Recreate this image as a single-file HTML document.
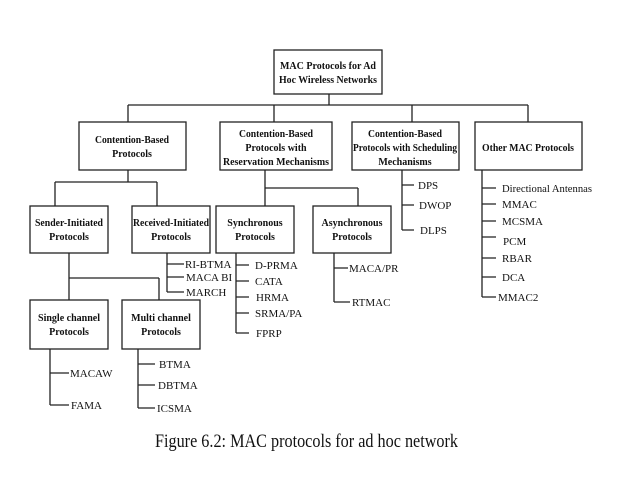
<!DOCTYPE html>
<html><head><meta charset="utf-8"><style>
html,body{margin:0;padding:0;background:#fff;width:638px;height:479px;overflow:hidden}
svg{display:block}
.b{font-family:"Liberation Serif",serif;font-weight:bold;font-size:10px;fill:#111;text-anchor:middle}
.t{font-family:"Liberation Serif",serif;font-size:11px;fill:#111}
</style></head><body>
<svg width="638" height="479" viewBox="0 0 638 479" xmlns="http://www.w3.org/2000/svg">
<g fill="none" stroke="#222" stroke-width="1.3">
<rect x="274" y="50" width="108" height="44"/>
<rect x="79" y="122" width="107" height="48"/>
<rect x="220" y="122" width="112" height="48"/>
<rect x="352" y="122" width="107" height="48"/>
<rect x="475" y="122" width="107" height="48"/>
<rect x="30" y="206" width="78" height="47"/>
<rect x="132" y="206" width="78" height="47"/>
<rect x="216" y="206" width="78" height="47"/>
<rect x="313" y="206" width="78" height="47"/>
<rect x="30" y="300" width="78" height="49"/>
<rect x="122" y="300" width="78" height="49"/>
<path d="M329 94V105M128 105H528M128 105V122M274 105V122M412 105V122M528 105V122"/>
<path d="M128 170V182M55 182H157M55 182V206M157 182V206"/>
<path d="M265 170V188M265 188H358M265 188V206M358 188V206"/>
<path d="M402 170V230M402 185H414M402 205H414M402 230H414"/>
<path d="M482 170V297M482 188H496M482 204H496M482 221H496M482 237H496M482 258H496M482 277H496M482 297H496"/>
<path d="M69 253V300M69 278H159M159 278V300"/>
<path d="M167 253V292M167 264H184M167 277H184M167 292H184"/>
<path d="M236 253V333M236 265H249M236 281H249M236 297H249M236 313H249M236 333H249"/>
<path d="M334 253V302M334 268H348M334 302H350"/>
<path d="M50 349V405M50 373H69M50 405H69"/>
<path d="M138 349V408M138 364H155M138 385H155M138 408H155"/>
</g>
<text class="b" x="328" y="69" textLength="96" lengthAdjust="spacingAndGlyphs">MAC Protocols for Ad</text>
<text class="b" x="328" y="83" textLength="98" lengthAdjust="spacingAndGlyphs">Hoc Wireless Networks</text>
<text class="b" x="132" y="143" textLength="74" lengthAdjust="spacingAndGlyphs">Contention-Based</text>
<text class="b" x="132" y="157">Protocols</text>
<text class="b" x="276" y="137" textLength="74" lengthAdjust="spacingAndGlyphs">Contention-Based</text>
<text class="b" x="276" y="151">Protocols with</text>
<text class="b" x="276" y="165" textLength="106" lengthAdjust="spacingAndGlyphs">Reservation Mechanisms</text>
<text class="b" x="405" y="137" textLength="74" lengthAdjust="spacingAndGlyphs">Contention-Based</text>
<text class="b" x="405" y="151" textLength="104" lengthAdjust="spacingAndGlyphs">Protocols with Scheduling</text>
<text class="b" x="405" y="165">Mechanisms</text>
<text class="b" x="528" y="151" textLength="92" lengthAdjust="spacingAndGlyphs">Other MAC Protocols</text>
<text class="b" x="69" y="226" textLength="68" lengthAdjust="spacingAndGlyphs">Sender-Initiated</text>
<text class="b" x="69" y="240">Protocols</text>
<text class="b" x="171" y="226" textLength="76" lengthAdjust="spacingAndGlyphs">Received-Initiated</text>
<text class="b" x="171" y="240">Protocols</text>
<text class="b" x="255" y="226">Synchronous</text>
<text class="b" x="255" y="240">Protocols</text>
<text class="b" x="352" y="226">Asynchronous</text>
<text class="b" x="352" y="240">Protocols</text>
<text class="b" x="69" y="321">Single channel</text>
<text class="b" x="69" y="335">Protocols</text>
<text class="b" x="161" y="321">Multi channel</text>
<text class="b" x="161" y="335">Protocols</text>
<g class="t">
<text x="418" y="189">DPS</text>
<text x="419" y="209">DWOP</text>
<text x="420" y="234">DLPS</text>
<text x="502" y="192" textLength="90" lengthAdjust="spacingAndGlyphs">Directional Antennas</text>
<text x="502" y="208">MMAC</text>
<text x="502" y="225">MCSMA</text>
<text x="503" y="245">PCM</text>
<text x="502" y="262">RBAR</text>
<text x="502" y="281">DCA</text>
<text x="498" y="301">MMAC2</text>
<text x="185" y="268">RI-BTMA</text>
<text x="186" y="281">MACA BI</text>
<text x="186" y="296">MARCH</text>
<text x="255" y="269">D-PRMA</text>
<text x="255" y="285">CATA</text>
<text x="256" y="301">HRMA</text>
<text x="255" y="317">SRMA/PA</text>
<text x="256" y="337">FPRP</text>
<text x="349" y="272">MACA/PR</text>
<text x="352" y="306">RTMAC</text>
<text x="70" y="377">MACAW</text>
<text x="71" y="409">FAMA</text>
<text x="159" y="368">BTMA</text>
<text x="158" y="389">DBTMA</text>
<text x="157" y="412">ICSMA</text>
</g>
<text x="155" y="447" textLength="303" lengthAdjust="spacingAndGlyphs" style="font-family:'Liberation Serif',serif;font-size:19px;fill:#111">Figure 6.2: MAC protocols for ad hoc network</text>
</svg>
</body></html>
